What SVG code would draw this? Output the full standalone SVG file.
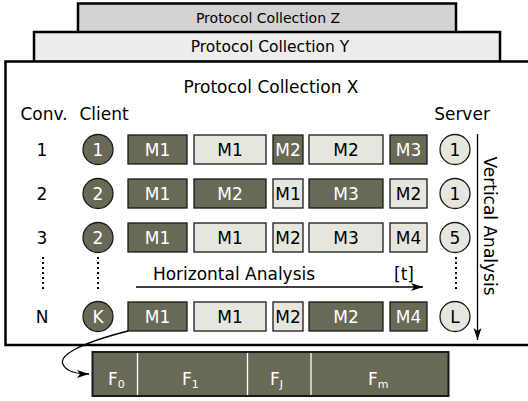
<svg xmlns="http://www.w3.org/2000/svg" width="528" height="401" viewBox="0 0 528 401">
<style>
text{font-family:"DejaVu Sans",sans-serif;}
.d{fill:#686957;stroke:#1a1a1a;stroke-width:1.3;}
.l{fill:#e6e6de;stroke:#1a1a1a;stroke-width:1.3;}
.tw{fill:#ffffff;font-size:17px;text-anchor:middle;}
.tb{fill:#000000;font-size:17px;text-anchor:middle;}
.lab{fill:#000;font-size:17px;text-anchor:middle;}
.fl{fill:#ffffff;font-size:17px;}
.sub{font-size:11px;}
.dot{stroke:#000;stroke-width:2;stroke-dasharray:2 3;fill:none;}
</style>
<defs>
<marker id="ah" markerWidth="14" markerHeight="10" refX="12" refY="5" orient="auto" markerUnits="userSpaceOnUse">
<path d="M0,1 L12,5 L0,9 L3,5 Z" fill="#000"/>
</marker>
</defs>
<g id="collZ">
<rect x="78" y="3.5" width="378" height="30" fill="#d3d3d3" stroke="#000" stroke-width="2.5"/>
<text x="268" y="23" style="font-size:14px;text-anchor:middle;fill:#000">Protocol Collection Z</text>
</g>
<g id="collY">
<rect x="34" y="32" width="466" height="30" fill="#ededed" stroke="#000" stroke-width="2.5"/>
<text x="270" y="52" style="font-size:15.5px;text-anchor:middle;fill:#000">Protocol Collection Y</text>
</g>
<g id="collX">
<rect x="5.5" y="61.5" width="530" height="283.5" fill="#ffffff" stroke="#000" stroke-width="2.5"/>
<text x="271" y="93" class="lab">Protocol Collection X</text>
<text x="44" y="120" class="lab">Conv.</text>
<text x="104" y="120" class="lab">Client</text>
<text x="462" y="120" class="lab">Server</text>
</g>
<g id="conv1">
<text x="42" y="156" class="lab">1</text>
<circle cx="98" cy="149.5" r="15" class="d"/><text x="98" y="156" class="tw">1</text>
<rect x="128" y="135" width="59" height="29" class="d"/><text x="157.5" y="156" class="tw">M1</text>
<rect x="194" y="135" width="72" height="29" class="l"/><text x="230" y="156" class="tb">M1</text>
<rect x="273" y="135" width="30" height="29" class="d"/><text x="288" y="156" class="tw">M2</text>
<rect x="309" y="135" width="74" height="29" class="l"/><text x="346" y="156" class="tb">M2</text>
<rect x="390" y="135" width="37" height="29" class="d"/><text x="408.5" y="156" class="tw">M3</text>
<circle cx="455" cy="149.5" r="15" class="l"/><text x="455" y="156" class="tb">1</text>
</g>
<g id="conv2">
<text x="42" y="200" class="lab">2</text>
<circle cx="98" cy="193.5" r="15" class="d"/><text x="98" y="200" class="tw">2</text>
<rect x="128" y="179" width="59" height="29" class="d"/><text x="157.5" y="200" class="tw">M1</text>
<rect x="194" y="179" width="72" height="29" class="d"/><text x="230" y="200" class="tw">M2</text>
<rect x="273" y="179" width="30" height="29" class="l"/><text x="288" y="200" class="tb">M1</text>
<rect x="309" y="179" width="74" height="29" class="d"/><text x="346" y="200" class="tw">M3</text>
<rect x="390" y="179" width="37" height="29" class="l"/><text x="408.5" y="200" class="tb">M2</text>
<circle cx="455" cy="193.5" r="15" class="l"/><text x="455" y="200" class="tb">1</text>
</g>
<g id="conv3">
<text x="42" y="244" class="lab">3</text>
<circle cx="98" cy="237.5" r="15" class="d"/><text x="98" y="244" class="tw">2</text>
<rect x="128" y="223" width="59" height="29" class="d"/><text x="157.5" y="244" class="tw">M1</text>
<rect x="194" y="223" width="72" height="29" class="l"/><text x="230" y="244" class="tb">M1</text>
<rect x="273" y="223" width="30" height="29" class="l"/><text x="288" y="244" class="tb">M2</text>
<rect x="309" y="223" width="74" height="29" class="l"/><text x="346" y="244" class="tb">M3</text>
<rect x="390" y="223" width="37" height="29" class="l"/><text x="408.5" y="244" class="tb">M4</text>
<circle cx="455" cy="237.5" r="15" class="l"/><text x="455" y="244" class="tb">5</text>
</g>
<g id="convN">
<text x="42" y="323" class="lab">N</text>
<circle cx="98" cy="316.5" r="15" class="d"/><text x="98" y="323" class="tw">K</text>
<rect x="128" y="302" width="59" height="29" class="d"/><text x="157.5" y="323" class="tw">M1</text>
<rect x="194" y="302" width="72" height="29" class="l"/><text x="230" y="323" class="tb">M1</text>
<rect x="273" y="302" width="30" height="29" class="l"/><text x="288" y="323" class="tb">M2</text>
<rect x="309" y="302" width="74" height="29" class="d"/><text x="346" y="323" class="tw">M2</text>
<rect x="390" y="302" width="37" height="29" class="d"/><text x="408.5" y="323" class="tw">M4</text>
<circle cx="455" cy="316.5" r="15" class="l"/><text x="455" y="323" class="tb">L</text>
</g>
<g id="ellipsis">
<line x1="43" y1="257" x2="43" y2="292" class="dot"/>
<line x1="98" y1="257" x2="98" y2="292" class="dot"/>
<line x1="456" y1="257" x2="456" y2="292" class="dot"/>
</g>
<g id="frame">
<rect x="92.5" y="352" width="356" height="44" fill="#686957" stroke="#1a1a1a" stroke-width="2"/>
<line x1="137.5" y1="353" x2="137.5" y2="395" stroke="#fff" stroke-width="1.3"/>
<line x1="247.5" y1="353" x2="247.5" y2="395" stroke="#fff" stroke-width="1.3"/>
<line x1="311" y1="353" x2="311" y2="395" stroke="#fff" stroke-width="1.3"/>
<text x="108" y="385" class="fl">F<tspan class="sub" dy="3">0</tspan></text>
<text x="182" y="385" class="fl">F<tspan class="sub" dy="3">1</tspan></text>
<text x="270" y="385" class="fl">F<tspan class="sub" dy="3">J</tspan></text>
<text x="368" y="385" class="fl">F<tspan class="sub" dy="3">m</tspan></text>
</g>
<g id="connectors">
<line x1="136" y1="287" x2="423" y2="287" stroke="#000" stroke-width="1.3" marker-end="url(#ah)"/>
<text x="234" y="280" class="lab">Horizontal Analysis</text>
<text x="404" y="280" class="lab">[t]</text>
<line x1="477.5" y1="134" x2="477.5" y2="340" stroke="#000" stroke-width="1.3" marker-end="url(#ah)"/>
<text transform="translate(484,226) rotate(90)" class="lab">Vertical Analysis</text>
<path d="M128,331 C85,342 55,355 64,366 C68,372 78,374 89,374" fill="none" stroke="#000" stroke-width="1.3" marker-end="url(#ah)"/>
</g>
</svg>
